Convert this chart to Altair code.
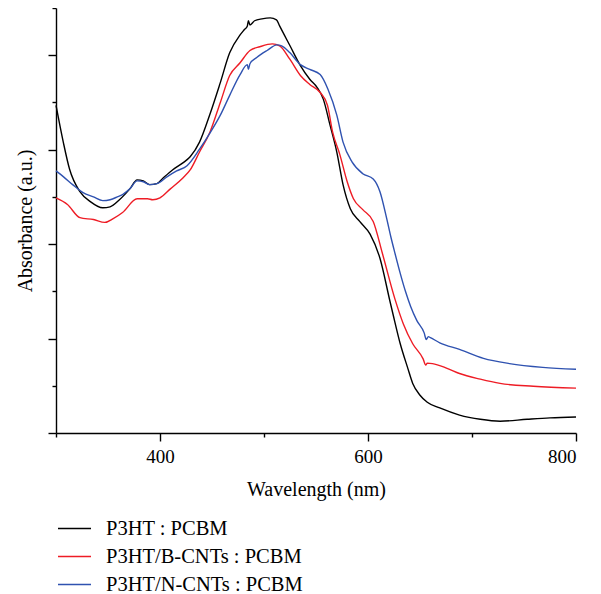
import altair as alt
import pandas as pd

# ---- data ----
samples = ["P3HT : PCBM", "P3HT/B-CNTs : PCBM", "P3HT/N-CNTs : PCBM"]
colors = ["#000000", "#ee1c25", "#2f52b0"]

wl_black = [300, 307, 313, 323, 333, 345, 352, 361, 371, 378, 384, 390, 397, 403, 412, 422, 429,
            438, 448, 458, 467, 477, 481, 484, 485, 486.5, 491, 498, 506, 512, 515, 525, 535, 544,
            551, 557, 563.5, 570, 576, 583, 592, 602, 611.5, 621, 624, 631, 638, 643, 650, 657,
            669, 688, 708, 727, 753, 775, 800]
abs_black = [0.694, 0.616, 0.559, 0.511, 0.490, 0.477, 0.479, 0.494, 0.517, 0.536, 0.534, 0.526,
             0.528, 0.540, 0.557, 0.572, 0.585, 0.616, 0.675, 0.742, 0.805, 0.843, 0.854, 0.862,
             0.873, 0.864, 0.873, 0.877, 0.879, 0.875, 0.862, 0.820, 0.778, 0.749, 0.732, 0.707,
             0.652, 0.595, 0.526, 0.475, 0.448, 0.421, 0.370, 0.280, 0.252, 0.189, 0.139, 0.105,
             0.080, 0.065, 0.053, 0.038, 0.029, 0.025, 0.029, 0.032, 0.034]

wl_red = [300, 311, 323, 336, 347, 355, 364, 378, 388, 393, 400, 410, 422, 429, 438, 448, 458,
          467, 477, 486.5, 496, 508, 515, 525, 535, 544, 554, 561, 566, 573, 580, 586, 595, 605,
          614, 626, 634, 643, 653, 655.5, 657, 662, 676, 688, 708, 727, 759, 800]
abs_red = [0.498, 0.484, 0.456, 0.452, 0.446, 0.454, 0.467, 0.496, 0.496, 0.494, 0.498, 0.517,
           0.540, 0.557, 0.595, 0.637, 0.700, 0.757, 0.784, 0.810, 0.818, 0.824, 0.820, 0.791,
           0.757, 0.738, 0.721, 0.694, 0.637, 0.589, 0.532, 0.496, 0.473, 0.448, 0.379, 0.283,
           0.231, 0.189, 0.157, 0.144, 0.148, 0.147, 0.137, 0.126, 0.114, 0.105, 0.099, 0.095]

wl_blue = [300, 307, 316, 326, 336, 345, 352, 359, 364, 371, 378, 384, 390, 397, 407, 416, 426,
           438, 448, 458, 467, 477, 484, 485, 486.5, 493, 503, 512.5, 517, 525, 535, 544, 554,
           561.5, 570, 576, 584.6, 595, 605, 611.5, 618, 622, 626, 631, 636, 641, 647, 654, 656,
           658, 660, 669, 688, 711, 736, 768, 800]
abs_blue = [0.555, 0.543, 0.526, 0.509, 0.500, 0.492, 0.494, 0.500, 0.505, 0.517, 0.534, 0.532,
            0.526, 0.528, 0.543, 0.555, 0.566, 0.601, 0.635, 0.673, 0.715, 0.759, 0.780, 0.770,
            0.782, 0.795, 0.810, 0.822, 0.820, 0.805, 0.780, 0.770, 0.759, 0.728, 0.673, 0.616,
            0.574, 0.549, 0.538, 0.511, 0.454, 0.415, 0.380, 0.338, 0.300, 0.268, 0.238, 0.212,
            0.198, 0.204, 0.202, 0.191, 0.177, 0.158, 0.147, 0.139, 0.135]

x_ticks = [300, 400, 500, 600, 700, 800]
y_ticks = [0.0, 0.1, 0.2, 0.3, 0.4, 0.5, 0.6, 0.7, 0.8, 0.9]

rows = []
for name, wl, ab in zip(samples, [wl_black, wl_red, wl_blue], [abs_black, abs_red, abs_blue]):
    for i, (w, a) in enumerate(zip(wl, ab)):
        rows.append({"sample": name, "wavelength": w, "absorbance": a, "idx": i})
df = pd.DataFrame(rows)

FONT = "Liberation Serif"

chart = alt.Chart(df).mark_line(strokeWidth=1.4, interpolate="monotone").encode(
    x=alt.X("wavelength:Q",
            scale=alt.Scale(domain=[300, 800], nice=False, zero=False),
            axis=alt.Axis(values=x_ticks, title="Wavelength (nm)",
                          labelExpr="datum.value % 200 == 0 ? datum.label : ''",
                          tickSize={"condition": {"test": "datum.value % 200 == 0", "value": 8}, "value": 4},
                          labelPadding=6, titlePadding=13)),
    y=alt.Y("absorbance:Q",
            scale=alt.Scale(domain=[0, 0.9], nice=False),
            axis=alt.Axis(values=y_ticks, labels=False, title="Absorbance (a.u.)",
                          tickSize={"condition": {"test": "round(datum.value * 10) % 2 == 0", "value": 8}, "value": 4},
                          titlePadding=12)),
    color=alt.Color("sample:N",
                    scale=alt.Scale(domain=samples, range=colors),
                    legend=alt.Legend(title=None, orient="none", legendX=1, legendY=503,
                                      symbolType="stroke", symbolSize=1089, symbolStrokeWidth=1.4,
                                      labelFont=FONT, labelFontSize=20.5, labelColor="#000000",
                                      labelLimit=0, rowPadding=-9.5, labelOffset=14, padding=0)),
    order=alt.Order("idx:Q"),
).properties(
    width=520, height=425,
    autosize=alt.AutoSizeParams(type="none"),
    padding={"left": 48, "top": 0, "right": 17, "bottom": 166},
).configure_view(stroke=None).configure_axis(
    grid=False, domainColor="#000000", domainWidth=1.4, tickColor="#000000", tickWidth=1.4,
    labelFont=FONT, labelFontSize=19, labelColor="#000000", titleFont=FONT, titleFontSize=20,
    titleFontWeight="normal", titleColor="#000000",
)

chart.save("out.html", embed_options={"renderer": "svg", "actions": False})
